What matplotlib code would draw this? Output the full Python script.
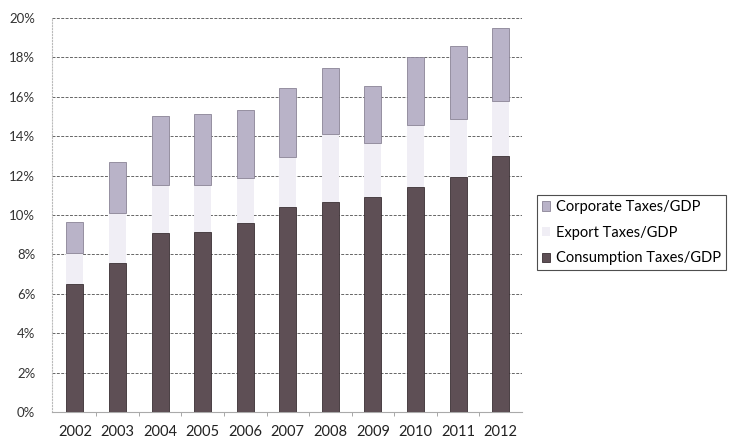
import matplotlib.pyplot as plt
import numpy as np

plt.rcParams['font.family'] = ['Lato', 'DejaVu Sans']

years = ['2002', '2003', '2004', '2005', '2006', '2007', '2008', '2009', '2010', '2011', '2012']
consumption = [6.5, 7.55, 9.1, 9.15, 9.6, 10.4, 10.65, 10.9, 11.4, 11.9, 13.0]
export = [1.55, 2.55, 2.4, 2.35, 2.25, 2.55, 3.45, 2.75, 3.15, 2.95, 2.8]
corporate = [1.6, 2.6, 3.5, 3.6, 3.45, 3.5, 3.35, 2.9, 3.45, 3.7, 3.7]
yticks = [0, 2, 4, 6, 8, 10, 12, 14, 16, 18, 20]

fig = plt.figure(figsize=(7.32, 4.45), dpi=100)
ax = fig.add_axes([0.071, 0.074, 0.642, 0.886])

x = np.arange(len(years))
cons = np.array(consumption)
exp_ = np.array(export)
w = 0.4

ax.bar(x, cons, w, color='#5e4f55', edgecolor='#3a2f33', linewidth=0.6,
       label='Consumption Taxes/GDP', zorder=3)
ax.bar(x, exp_, w, bottom=cons, color='#f0eef5', edgecolor='none',
       label='Export Taxes/GDP', zorder=3)
ax.bar(x, corporate, w, bottom=cons + exp_, color='#b9b3c8', edgecolor='#8a8496',
       linewidth=0.6, label='Corporate Taxes/GDP', zorder=3)

ax.set_ylim(0, 20)
ax.set_xlim(-0.54, len(years) - 0.5)
ax.set_yticks(yticks)
ax.set_yticklabels([f'{v}%' for v in yticks], fontsize=9.5, color='#333333')
ax.set_xticks(x)
ax.set_xticklabels(years, fontsize=10.5, color='#222222')
ax.tick_params(axis='x', length=0, pad=9)
ax.tick_params(axis='y', length=0, pad=12)

# small separators between the year groups
ax.set_xticks(x[:-1] + 0.5, minor=True)
ax.tick_params(axis='x', which='minor', length=3, color='#999999', direction='out')

ax.grid(axis='y', linestyle=(0, (3, 1.5)), color='#666666', linewidth=0.7, zorder=0)
for s in ['top', 'right']:
    ax.spines[s].set_visible(False)
ax.spines['left'].set_color('#bbbbbb')
ax.spines['left'].set_linestyle(':')
ax.spines['bottom'].set_color('#aaaaaa')
ax.spines['bottom'].set_linewidth(0.8)

handles, labels = ax.get_legend_handles_labels()
leg = fig.legend(handles[::-1], labels[::-1], loc='upper left',
                 bbox_to_anchor=(0.733, 0.562), fontsize=10.5, frameon=True,
                 fancybox=False, handlelength=0.6, handleheight=0.6,
                 handletextpad=0.4, labelspacing=0.8, borderpad=0.35,
                 borderaxespad=0)
leg.get_frame().set_edgecolor('#222222')
leg.get_frame().set_linewidth(0.8)

fig.savefig('out.png', dpi=100)
